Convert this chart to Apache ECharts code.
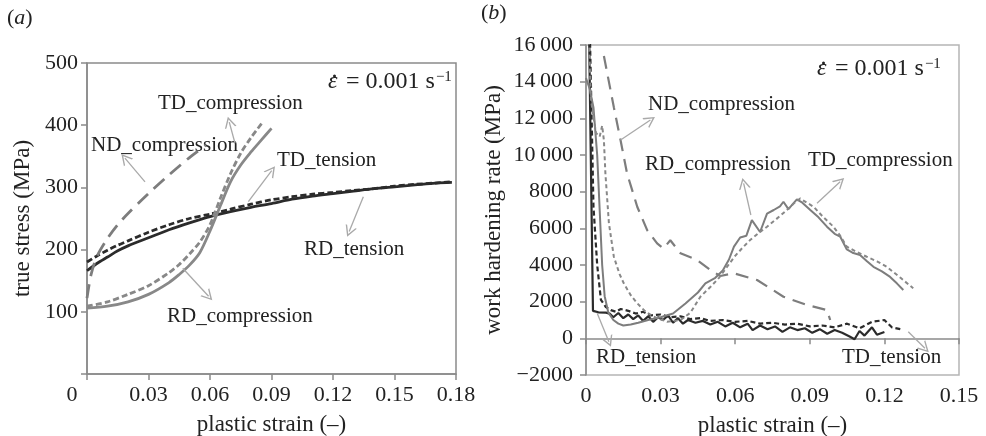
<!DOCTYPE html>
<html>
<head>
<meta charset="utf-8">
<script src="https://cdn.jsdelivr.net/npm/echarts@6/dist/echarts.min.js"></script>
<style>
  html, body { margin: 0; padding: 0; background: #fff; }
  #main { width: 986px; height: 436px; }
</style>
</head>
<body>
<div id="main"></div>
<script>
// (a) true stress (MPa) vs plastic strain
const rdTensionA = [[0,166],[0.005,178],[0.01,188],[0.015,198],[0.02,206],[0.03,219],[0.04,232],[0.05,243],
  [0.06,253],[0.07,261],[0.08,268],[0.09,274],[0.1,281],[0.11,286],[0.12,290],[0.13,294],[0.14,298],
  [0.15,301],[0.16,304],[0.17,307],[0.178,308]];
const tdTensionA = [[0,180],[0.005,190],[0.01,199],[0.015,207],[0.02,214],[0.03,228],[0.04,240],[0.05,250],
  [0.06,257],[0.07,265],[0.08,273],[0.09,280],[0.1,285],[0.11,289],[0.12,292],[0.13,295],[0.14,298],
  [0.15,302],[0.16,305],[0.17,307],[0.178,309]];
const ndCompressionA = [[0,122],[0.002,160],[0.005,190],[0.01,218],[0.015,240],[0.02,258],[0.03,290],
  [0.04,320],[0.05,348],[0.058,368]];
const rdCompressionA = [[0,106],[0.01,109],[0.02,116],[0.03,128],[0.04,147],[0.045,160],[0.05,175],[0.055,195],
  [0.06,230],[0.065,270],[0.07,309],[0.075,336],[0.08,357],[0.085,376],[0.09,395]];
const tdCompressionA = [[0,109],[0.01,116],[0.02,128],[0.03,142],[0.04,163],[0.045,176],[0.05,193],[0.055,212],
  [0.06,240],[0.065,282],[0.07,322],[0.075,355],[0.08,380],[0.0855,404]];

// (b) work hardening rate (MPa) vs plastic strain
const rdTensionB = [[0.0012,17000],[0.0028,1500],[0.005,1420],[0.008,1400],[0.0095,1350],[0.011,1150],
  [0.013,1380],[0.015,1100],[0.017,1300],[0.019,1050],[0.021,1250],[0.023,950],[0.025,1200],[0.027,900],
  [0.029,1150],[0.031,1000],[0.033,1250],[0.035,850],[0.037,1100],[0.039,800],[0.041,1000],[0.044,850],
  [0.047,950],[0.05,750],[0.053,900],[0.056,650],[0.059,850],[0.062,600],[0.065,800],[0.067,450],
  [0.07,700],[0.073,500],[0.076,650],[0.079,350],[0.082,600],[0.085,450],[0.088,550],[0.091,300],
  [0.094,500],[0.097,250],[0.1,450],[0.103,300],[0.106,100],[0.108,-50],[0.11,400],[0.112,150],
  [0.115,600],[0.117,200],[0.12,350]];
const tdTensionB = [[0.0015,17000],[0.003,7200],[0.0045,4000],[0.006,2100],[0.008,1700],[0.01,1540],
  [0.012,1450],[0.014,1600],[0.017,1500],[0.02,1350],[0.023,1450],[0.026,1250],[0.03,1300],[0.034,1150],
  [0.038,1200],[0.042,1050],[0.046,1100],[0.05,950],[0.055,1000],[0.06,900],[0.065,950],[0.07,800],
  [0.075,850],[0.08,750],[0.085,800],[0.09,650],[0.095,700],[0.1,600],[0.105,800],[0.11,550],
  [0.115,900],[0.12,1000],[0.123,600],[0.127,480]];
const ndCompressionB = [[0.0072,15400],[0.0112,12600],[0.0139,10800],[0.0165,9000],[0.0206,7180],
  [0.0246,5900],[0.0286,5180],[0.0312,4900],[0.0339,5350],[0.038,4640],[0.0447,4270],[0.05,3730],
  [0.054,3400],[0.0594,3550],[0.0688,3180],[0.0794,2270],[0.0888,1820],[0.0969,1540],[0.0982,1000]];
const rdCompressionB = [[0,14200],[0.0015,13600],[0.003,12600],[0.0045,10000],[0.0055,7000],[0.0065,4000],
  [0.0075,2300],[0.009,1400],[0.011,1000],[0.013,800],[0.015,700],[0.018,750],[0.021,850],[0.025,1000],
  [0.03,1150],[0.035,1350],[0.04,1900],[0.045,2500],[0.048,3000],[0.052,3300],[0.055,3700],[0.0575,4300],
  [0.0595,5000],[0.062,5500],[0.0645,5600],[0.0667,6450],[0.07,5800],[0.0728,6800],[0.0755,7000],
  [0.078,7200],[0.0794,7450],[0.0814,7050],[0.0848,7580],[0.087,7400],[0.0902,7000],[0.0935,6600],
  [0.0969,6090],[0.1,5700],[0.1022,5550],[0.1049,4850],[0.1075,4650],[0.1102,4550],[0.113,4200],
  [0.1156,3900],[0.119,3650],[0.1223,3350],[0.125,3000],[0.1276,2640]];
const tdCompressionB = [[0.001,17000],[0.002,13000],[0.004,11200],[0.0055,11000],[0.0065,11600],
  [0.0072,10800],[0.0078,9000],[0.0092,6300],[0.0112,4450],[0.0135,3500],[0.0152,3000],[0.018,2350],
  [0.0206,1910],[0.024,1450],[0.0272,1180],[0.0326,900],[0.038,1000],[0.042,1400],[0.046,2270],
  [0.05,2800],[0.0535,3300],[0.0567,3900],[0.06,4500],[0.063,4950],[0.066,5360],[0.0695,5750],
  [0.0728,6090],[0.0765,6500],[0.0808,7000],[0.0835,7350],[0.0861,7630],[0.0888,7400],[0.0915,7180],
  [0.0955,6600],[0.0995,6090],[0.1022,5600],[0.1049,5000],[0.109,4700],[0.1129,4450],[0.117,4200],
  [0.121,3900],[0.1265,3300],[0.1316,2730]];

// annotation arrows, from curve to label (data coords)
const arrowsA = [
  [[0.0722,371],[0.0694,405]],
  [[0.0283,309],[0.0185,347]],
  [[0.0787,277],[0.0901,327]],
  [[0.1348,285],[0.1279,229]],
  [[0.0467,170],[0.0593,125]]
];
const arrowsB = [
  [[0.0139,10818],[0.0259,11908]],
  [[0.0663,6727],[0.0634,8456]],
  [[0.0929,7365],[0.1022,8543]],
  [[0.0045,1364],[0.0092,-185]],
  [[0.1296,360],[0.1363,-545]]
];

const SERIF = '"Liberation Serif", "DejaVu Serif", serif';
const BLACK = '#2b2b2b', GREY = '#7d7d7d', GREY2 = '#888888', AXIS = '#8a8a8a';

function arrowLines(pairs) {
  return {
    silent: true,
    symbol: ['none', 'path://M5,0L10,9L8.7,9L5,2.4L1.3,9L0,9Z'],
    symbolSize: [12, 11],
    lineStyle: { color: '#a9a9a9', width: 1.3, type: 'solid' },
    label: { show: false },
    emphasis: { disabled: true },
    animation: false,
    data: pairs.map(p => [{ coord: p[0] }, { coord: p[1] }])
  };
}

function line(data, idx, color, width, dash, smooth, extra) {
  return Object.assign({
    type: 'line', data: data, xAxisIndex: idx, yAxisIndex: idx,
    showSymbol: false, symbol: 'none', smooth: smooth, animation: false, silent: true,
    lineStyle: { color: color, width: width, type: dash }
  }, extra || {});
}

function xAxis(idx, max, labelFmt) {
  return {
    type: 'value', gridIndex: idx, min: 0, max: max, interval: 0.03,
    name: 'plastic strain (–)', nameLocation: 'middle', nameGap: 39,
    nameTextStyle: { fontFamily: SERIF, fontSize: 23, color: '#222' },
    axisLine: { show: true, lineStyle: { color: AXIS, width: 1.5 } },
    axisTick: { show: true, inside: false, length: 6, lineStyle: { color: AXIS, width: 1.5 } },
    splitLine: { show: false },
    axisLabel: {
      margin: 10, fontFamily: SERIF, fontSize: 22, color: '#222', formatter: labelFmt,
      rich: { z: { fontFamily: SERIF, fontSize: 22, color: '#222', padding: [0, 30, 0, 0] } }
    }
  };
}

function thousands(v) {
  let s = Math.abs(v) >= 10000 ? String(Math.abs(v)).replace(/(\d{2})(\d{3})$/, '$1\u2009$2') : String(Math.abs(v));
  return (v < 0 ? '\u2212' : '') + s;
}

const chart = echarts.init(document.getElementById('main'));

// strain-rate note: italic epsilon with a dot above, then "= 0.001 s^-1"
function epsText(x, y) {
  return {
    type: 'group', left: x, top: y,
    children: [
      { type: 'text', x: 0, y: 0,
        style: { text: '\u03B5', fontFamily: SERIF, fontSize: 24, fontStyle: 'italic', fill: '#222' } },
      { type: 'circle', shape: { cx: 6.5, cy: 6, r: 1.5 }, style: { fill: '#222' } },
      { type: 'text', x: 12, y: 0,
        style: {
          text: ' = 0.001 s{s|\u22121}', fontFamily: SERIF, fontSize: 24, fill: '#222',
          rich: { s: { fontFamily: SERIF, fontSize: 15, fill: '#222', verticalAlign: 'top', padding: [0, 0, 9, 1] } }
        } }
    ]
  };
}
function label(x, y, text) {
  return { type: 'text', left: x, top: y, style: { text: text, fontFamily: SERIF, fontSize: 21, fill: '#222' } };
}
function panel(x, y, letter) {
  return {
    type: 'text', left: x, top: y,
    style: {
      text: '({i|' + letter + '})', fontFamily: SERIF, fontSize: 22, fill: '#222',
      rich: { i: { fontFamily: SERIF, fontSize: 22, fontStyle: 'italic', fill: '#222' } }
    }
  };
}

chart.setOption({
  backgroundColor: '#fff',
  animation: false,
  grid: [
    { left: 87, top: 63, width: 369, height: 311, show: true, borderColor: AXIS, borderWidth: 1.5,
      containLabel: false, outerBoundsMode: 'none' },
    { left: 586, top: 45, width: 373, height: 330, show: true, borderColor: '#b5b5b5', borderWidth: 1.5,
      containLabel: false, outerBoundsMode: 'none' }
  ],
  xAxis: [
    xAxis(0, 0.18, v => v === 0 ? '{z|0}' : v.toFixed(2)),
    xAxis(1, 0.15, v => v === 0 ? '0' : v.toFixed(2))
  ],
  yAxis: [
    {
      type: 'value', gridIndex: 0, min: 0, max: 500, interval: 100,
      name: 'true stress (MPa)', nameLocation: 'middle', nameGap: 53,
      nameTextStyle: { fontFamily: SERIF, fontSize: 23, color: '#222' },
      axisLine: { show: true, lineStyle: { color: AXIS, width: 1.5 } },
      axisTick: { show: true, length: 6, lineStyle: { color: AXIS, width: 1.5 } },
      splitLine: { show: false },
      axisLabel: { margin: 9, fontFamily: SERIF, fontSize: 22, color: '#222',
        formatter: v => v === 0 ? '' : String(v) }
    },
    {
      type: 'value', gridIndex: 1, min: -2000, max: 16000, interval: 2000,
      name: 'work hardening rate (MPa)', nameLocation: 'middle', nameGap: 81,
      nameTextStyle: { fontFamily: SERIF, fontSize: 23, color: '#222' },
      axisLine: { show: true, lineStyle: { color: AXIS, width: 1.5 } },
      axisTick: { show: true, length: 6, lineStyle: { color: AXIS, width: 1.5 } },
      splitLine: { show: false },
      axisLabel: { margin: 13, fontFamily: SERIF, fontSize: 22, color: '#222', formatter: thousands }
    }
  ],
  series: [
    line(rdTensionA, 0, BLACK, 2.8, 'solid', 0.3, { markLine: arrowLines(arrowsA) }),
    line(tdTensionA, 0, BLACK, 2.8, [6, 3], 0.3),
    line(ndCompressionA, 0, GREY, 2.8, [14, 8], 0.3),
    line(rdCompressionA, 0, GREY2, 2.8, 'solid', 0.3),
    line(tdCompressionA, 0, GREY2, 2.8, [6, 3], 0.3),

    line(rdTensionB, 1, BLACK, 2.2, 'solid', false, { markLine: arrowLines(arrowsB) }),
    line(tdTensionB, 1, BLACK, 2.2, [5, 3], false),
    line(ndCompressionB, 1, GREY, 2.2, [13, 8], false),
    line(rdCompressionB, 1, GREY, 2, 'solid', false),
    line(tdCompressionB, 1, GREY2, 2, [4, 3], false)
  ],
  graphic: [
    panel(7, 7, 'a'),
    panel(481, 2, 'b'),
    epsText(328, 70),
    label(158, 93, 'TD_compression'),
    label(91, 135, 'ND_compression'),
    label(277, 150, 'TD_tension'),
    label(304, 239, 'RD_tension'),
    label(167, 306, 'RD_compression'),
    epsText(817, 57),
    label(648, 94, 'ND_compression'),
    label(645, 154, 'RD_compression'),
    label(808, 150, 'TD_compression'),
    label(596, 347, 'RD_tension'),
    label(842, 347, 'TD_tension')
  ]
});
</script>
</body>
</html>
